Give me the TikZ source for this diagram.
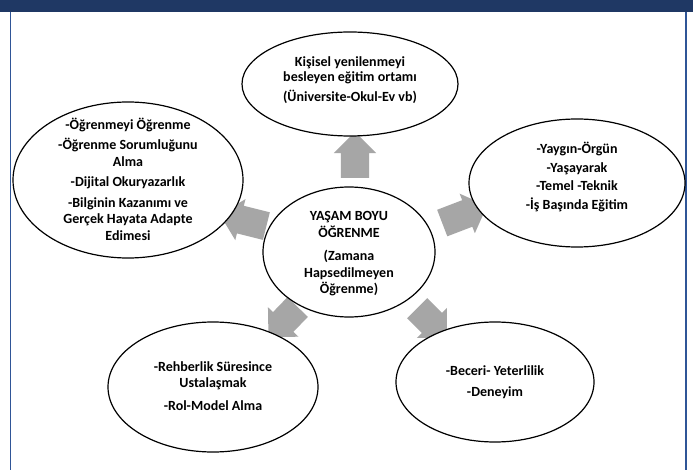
\documentclass[tikz,border=0pt]{standalone}
\usepackage{fontspec}
\setmainfont{Carlito}
\usetikzlibrary{shapes.geometric,shapes.arrows}
\definecolor{navy}{HTML}{1F3864}
\definecolor{frameblue}{HTML}{2F5597}
\definecolor{arrowgray}{HTML}{A6A6A6}
\tikzset{
  bubble/.style={draw=black, line width=1.2pt, fill=white, ellipse, inner sep=0pt},
  txt/.style={align=center, inner sep=0pt, font=\fontsize{14}{16.5}\selectfont\bfseries},
  blockarrow/.style={single arrow, fill=arrowgray, draw=none, inner xsep=0pt, inner ysep=14pt,
    single arrow head extend=7pt, single arrow head indent=0pt, anchor=center}
}
\begin{document}
\begin{tikzpicture}[x=1pt,y=-1pt]
\useasboundingbox (0,0) rectangle (693,470);
\fill[white] (0,0) rectangle (693,470);
\fill[navy] (0,0) rectangle (693,12);
\draw[frameblue, line width=1.2pt] (10.5,12) -- (10.5,470) (686,12) -- (686,470);

% block arrows
\node[blockarrow, minimum height=46pt, rotate=90] (aup) at (355,162) {};
\node[blockarrow, minimum height=48pt, rotate=166] (aleft) at (250,222) {};
\node[blockarrow, minimum height=48pt, rotate=21] (aright) at (458,217) {};
\node[blockarrow, minimum height=42pt, rotate=226] (abl) at (288,317) {};
\node[blockarrow, minimum height=42pt, rotate=-45] (abr) at (427,318) {};

% ellipses
\node[bubble, minimum width=216pt, minimum height=104pt] (top) at (350,84) {};
\node[bubble, minimum width=230pt, minimum height=156pt] (left) at (128,180) {};
\node[bubble, minimum width=216pt, minimum height=128pt] (right) at (577,183) {};
\node[bubble, minimum width=172pt, minimum height=130pt] (center) at (349,252) {};
\node[bubble, minimum width=210pt, minimum height=130pt] (bl) at (213,387) {};
\node[bubble, minimum width=198pt, minimum height=120pt] (br) at (495,382) {};

% texts
\node[txt, font=\fontsize{14}{15.5}\selectfont\bfseries] (toptext) at (350,80) {Kişisel yenilenmeyi\\besleyen eğitim ortamı\\[4pt](Üniversite-Okul-Ev vb)};
\node[txt] (lefttext) at (128,179) {-Öğrenmeyi Öğrenme\\[4pt]-Öğrenme Sorumluğunu\\Alma\\[4pt]-Dijital Okuryazarlık\\[4pt]-Bilginin Kazanımı ve\\Gerçek Hayata Adapte\\Edimesi};
\node[txt] (righttext) at (577,177) {-Yaygın-Örgün\\[2pt]-Yaşayarak\\[2pt]-Temel -Teknik\\[2pt]-İş Başında Eğitim};
\node[txt] (centertext) at (349,254) {YAŞAM BOYU\\ÖĞRENME\\[7pt](Zamana\\Hapsedilmeyen\\Öğrenme)};
\node[txt] (bltext) at (213,386) {-Rehberlik Süresince\\Ustalaşmak\\[6pt]-Rol-Model Alma};
\node[txt] (brtext) at (495,382) {-Beceri- Yeterlilik\\[4pt]-Deneyim};
\end{tikzpicture}
\end{document}
